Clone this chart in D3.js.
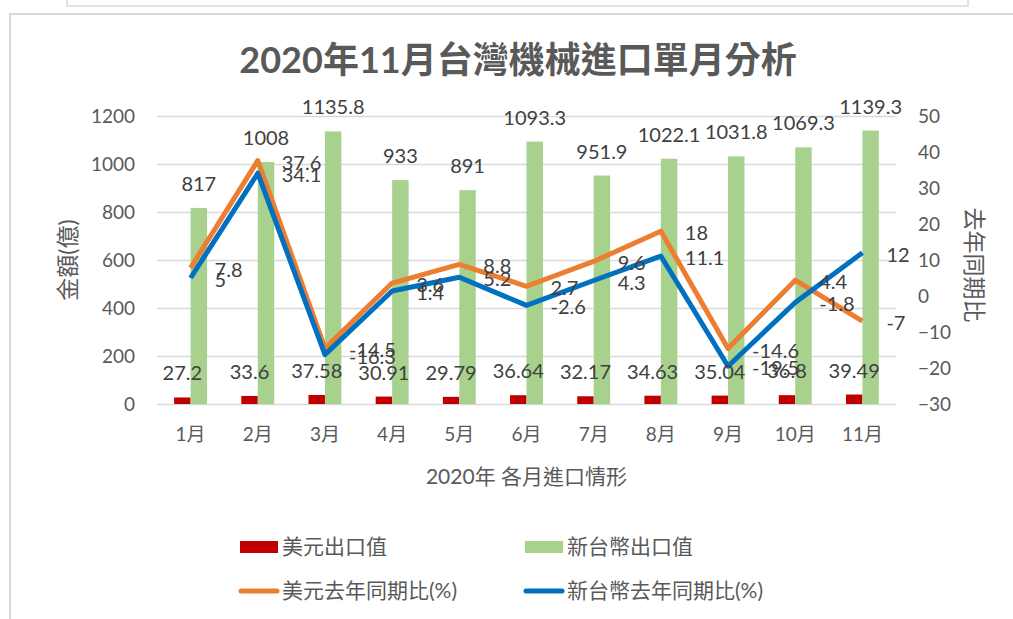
<!DOCTYPE html>
<html>
<head>
<meta charset="utf-8">
<script src="https://cdn.jsdelivr.net/npm/d3@7"></script>
<style>
  body { margin: 0; background: #fff; }
  text { font-family: Lato, "Noto Sans CJK TC", sans-serif; }
</style>
</head>
<body>
<div id="chart"></div>
<script>
// chart data
const months = ["1月", "2月", "3月", "4月", "5月", "6月", "7月", "8月", "9月", "10月", "11月"];
const usdValues = [27.2, 33.6, 37.58, 30.91, 29.79, 36.64, 32.17, 34.63, 35.04, 36.8, 39.49];
const ntdValues = [817, 1008, 1135.8, 933, 891, 1093.3, 951.9, 1022.1, 1031.8, 1069.3, 1139.3];
const usdYoY = [7.8, 37.6, -14.5, 3.6, 8.8, 2.7, 9.6, 18, -14.6, 4.4, -7];
const ntdYoY = [5, 34.1, -16.3, 1.4, 5.2, -2.6, 4.3, 11.1, -19.5, -1.8, 12];
const leftTicks = [0, 200, 400, 600, 800, 1000, 1200];
const rightTicks = [-30, -20, -10, 0, 10, 20, 30, 40, 50];

const width = 1013, height = 619;
const margin = { top: 116, right: 117, bottom: 215, left: 157 };
const innerW = width - margin.left - margin.right;
const innerH = height - margin.top - margin.bottom;

const axisColor = "#595959", labelColor = "#404040", gridColor = "#d9d9d9";
const colors = { usd: "#c00000", ntd: "#a9d18e", usdLine: "#ed7d31", ntdLine: "#0070c0" };

const svg = d3.select("#chart").append("svg")
    .attr("width", width)
    .attr("height", height);

// frames around the chart area
svg.append("rect")
    .attr("x", 67).attr("y", -10).attr("width", 901).attr("height", 16)
    .attr("fill", "none").attr("stroke", gridColor).attr("stroke-width", 1.5);
svg.append("rect")
    .attr("x", 10).attr("y", 14).attr("width", 1020).attr("height", 620)
    .attr("fill", "none").attr("stroke", gridColor).attr("stroke-width", 2);

svg.append("text")
    .attr("x", 518).attr("y", 73)
    .attr("text-anchor", "middle")
    .attr("font-size", 36).attr("font-weight", "bold")
    .attr("fill", axisColor)
    .text("2020年11月台灣機械進口單月分析");

const g = svg.append("g").attr("transform", `translate(${margin.left},${margin.top})`);

const x = d3.scaleBand().domain(months).range([0, innerW]).padding(0);
const yLeft = d3.scaleLinear().domain([0, 1200]).range([innerH, 0]);
const yRight = d3.scaleLinear().domain([-30, 50]).range([innerH, 0]);
const barW = x.bandwidth() * 0.245;

// gridlines + left axis
const leftAxis = g.append("g")
    .call(d3.axisLeft(yLeft).tickValues(leftTicks).tickFormat(d3.format("d")).tickSize(-innerW).tickPadding(22));
leftAxis.select(".domain").remove();
leftAxis.selectAll("line").attr("stroke", gridColor).attr("stroke-width", 1.5);
leftAxis.selectAll("text").attr("fill", axisColor).attr("font-size", 19)
    .style("font-family", "Lato, sans-serif");

const rightAxis = g.append("g")
    .attr("transform", `translate(${innerW},0)`)
    .call(d3.axisRight(yRight).tickValues(rightTicks).tickSize(0).tickPadding(22));
rightAxis.select(".domain").remove();
rightAxis.selectAll("text").attr("fill", axisColor).attr("font-size", 19)
    .style("font-family", "Lato, sans-serif");

const bottomAxis = g.append("g")
    .attr("transform", `translate(0,${innerH})`)
    .call(d3.axisBottom(x).tickSize(0).tickPadding(24));
bottomAxis.select(".domain").remove();
bottomAxis.selectAll("text").attr("fill", axisColor).attr("font-size", 19);

// axis titles
svg.append("text")
    .attr("transform", "translate(76,260) rotate(-90)")
    .attr("text-anchor", "middle")
    .attr("font-size", 23).attr("fill", axisColor)
    .text("金額(億)");
svg.append("text")
    .attr("transform", "translate(966,265) rotate(90)")
    .attr("text-anchor", "middle")
    .attr("font-size", 23).attr("fill", axisColor)
    .text("去年同期比");
svg.append("text")
    .attr("x", margin.left + innerW / 2).attr("y", 484)
    .attr("text-anchor", "middle")
    .attr("font-size", 21).attr("fill", axisColor)
    .text("2020年 各月進口情形");

// bars
const center = m => x(m) + x.bandwidth() / 2;

g.selectAll(".usd-bar")
    .data(months)
    .join("rect")
    .attr("class", "usd-bar")
    .attr("x", m => center(m) - barW)
    .attr("y", (m, i) => yLeft(usdValues[i]))
    .attr("width", barW)
    .attr("height", (m, i) => innerH - yLeft(usdValues[i]))
    .attr("fill", colors.usd);

g.selectAll(".ntd-bar")
    .data(months)
    .join("rect")
    .attr("class", "ntd-bar")
    .attr("x", m => center(m))
    .attr("y", (m, i) => yLeft(ntdValues[i]))
    .attr("width", barW)
    .attr("height", (m, i) => innerH - yLeft(ntdValues[i]))
    .attr("fill", colors.ntd);

// lines
const line = d3.line()
    .x(d => center(d.m))
    .y(d => yRight(d.v));

[[usdYoY, colors.usdLine], [ntdYoY, colors.ntdLine]].forEach(([vals, c]) => {
    g.append("path")
        .datum(months.map((m, i) => ({ m, v: vals[i] })))
        .attr("d", line)
        .attr("fill", "none")
        .attr("stroke", c)
        .attr("stroke-width", 5)
        .attr("stroke-linejoin", "round");
});

// data labels
const labelFont = 20;
g.selectAll(".usd-label")
    .data(months)
    .join("text")
    .attr("x", m => center(m) - barW / 2)
    .attr("y", (m, i) => yLeft(usdValues[i]) - 24)
    .attr("dy", "0.35em")
    .attr("text-anchor", "middle")
    .attr("font-size", labelFont).attr("fill", labelColor)
    .text((m, i) => usdValues[i]);

g.selectAll(".ntd-label")
    .data(months)
    .join("text")
    .attr("x", m => center(m) + barW / 2)
    .attr("y", (m, i) => yLeft(ntdValues[i]) - 24)
    .attr("dy", "0.35em")
    .attr("text-anchor", "middle")
    .attr("font-size", labelFont).attr("fill", labelColor)
    .text((m, i) => ntdValues[i]);

[usdYoY, ntdYoY].forEach(vals => {
    g.append("g").selectAll("text")
        .data(months)
        .join("text")
        .attr("x", m => center(m) + 24)
        .attr("y", (m, i) => yRight(vals[i]) + 2)
        .attr("dy", "0.35em")
        .attr("font-size", labelFont).attr("fill", labelColor)
        .text((m, i) => vals[i]);
});

// legend
const legendItems = [
    { name: "美元出口值", color: colors.usd, type: "rect", x: 240, y: 547 },
    { name: "新台幣出口值", color: colors.ntd, type: "rect", x: 525, y: 547 },
    { name: "美元去年同期比(%)", color: colors.usdLine, type: "line", x: 240, y: 591 },
    { name: "新台幣去年同期比(%)", color: colors.ntdLine, type: "line", x: 525, y: 591 }
];
const legend = svg.append("g");
legendItems.forEach(d => {
    if (d.type === "rect") {
        legend.append("rect")
            .attr("x", d.x).attr("y", d.y - 6).attr("width", 38).attr("height", 12)
            .attr("fill", d.color);
    } else {
        legend.append("line")
            .attr("x1", d.x + 1).attr("x2", d.x + 37).attr("y1", d.y).attr("y2", d.y)
            .attr("stroke", d.color).attr("stroke-width", 5).attr("stroke-linecap", "round");
    }
    legend.append("text")
        .attr("x", d.x + 42).attr("y", d.y)
        .attr("dy", "0.35em")
        .attr("font-size", 21).attr("fill", axisColor)
        .text(d.name);
});
</script>
</body>
</html>
